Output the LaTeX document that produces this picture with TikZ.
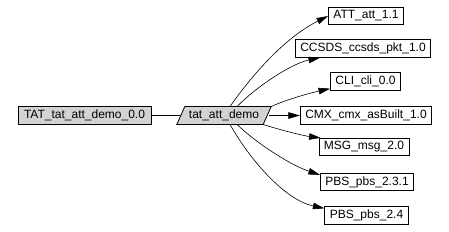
\documentclass[tikz,border=0pt]{standalone}
\usepackage{fontspec}
\setmainfont{Liberation Sans}
\usetikzlibrary{arrows.meta,backgrounds}
\definecolor{boxgray}{RGB}{211,211,211}
\tikzset{
  pkg/.style={draw=black, line width=0.8pt, rectangle, inner xsep=5pt, inner ysep=0pt, minimum height=17.5pt, font=\fontsize{12}{12}\selectfont, anchor=center},
  root/.style={pkg, fill=boxgray, inner xsep=6pt},
  demobody/.style={rectangle, minimum width=86pt, minimum height=17.5pt, inner sep=0pt, font=\fontsize{12}{12}\selectfont},
  slanted/.style={draw=black, line width=0.8pt, fill=boxgray},
  edge/.style={draw=black, line width=0.6pt, -{Triangle[length=11.5pt,width=6.5pt]}},
  plain/.style={draw=black, line width=0.6pt}
}
\begin{document}
\begin{tikzpicture}[x=1pt,y=-1pt]
\useasboundingbox (0,0) rectangle (449,231);
\node[root] (tat) at (84.5,115.5) {TAT\_tat\_att\_demo\_0.0};
\node[demobody] (demo) at (224,115.5) {tat\_att\_demo};
\begin{pgfonlayer}{background}
\fill[white] (0,0) rectangle (449,231);
\draw[slanted] ([xshift=-4pt]demo.south west) -- ([xshift=4pt]demo.north west) -- ([xshift=4pt]demo.north east) -- ([xshift=-4pt]demo.south east) -- cycle;
\end{pgfonlayer}
\node[pkg] (att) at (366,16) {ATT\_att\_1.1};
\node[pkg] (ccsds) at (363,48.5) {CCSDS\_ccsds\_pkt\_1.0};
\node[pkg] (cli) at (365.5,81.5) {CLI\_cli\_0.0};
\node[pkg] (cmx) at (366,115.5) {CMX\_cmx\_asBuilt\_1.0};
\node[pkg] (msg) at (364,147) {MSG\_msg\_2.0};
\node[pkg] (pbsa) at (367,182) {PBS\_pbs\_2.3.1};
\node[pkg] (pbsb) at (366.5,215.5) {PBS\_pbs\_2.4};
\draw[plain] (tat.east) -- (demo.west);
\draw[edge] ([xshift=6pt]demo.north) .. controls (245,85) and (280,40) .. (att.west);
\draw[edge] ([xshift=13pt]demo.north) .. controls (255,88) and (290,64) .. ([xshift=-43pt]ccsds.south);
\draw[edge] ([xshift=4pt]demo.north east) .. controls (285,100) and (310,93) .. ([yshift=2pt]cli.south west);
\draw[edge] ([xshift=2pt]demo.east) -- (cmx.west);
\draw[edge] ([xshift=-4pt]demo.south east) .. controls (280,130) and (305,136) .. ([xshift=2pt]msg.north west);
\draw[edge] ([xshift=13pt]demo.south) .. controls (255,142) and (290,165) .. ([yshift=-2pt]pbsa.north west);
\draw[edge] ([xshift=6pt]demo.south) .. controls (250,160) and (285,200) .. ([yshift=-2pt]pbsb.north west);
\end{tikzpicture}
\end{document}
